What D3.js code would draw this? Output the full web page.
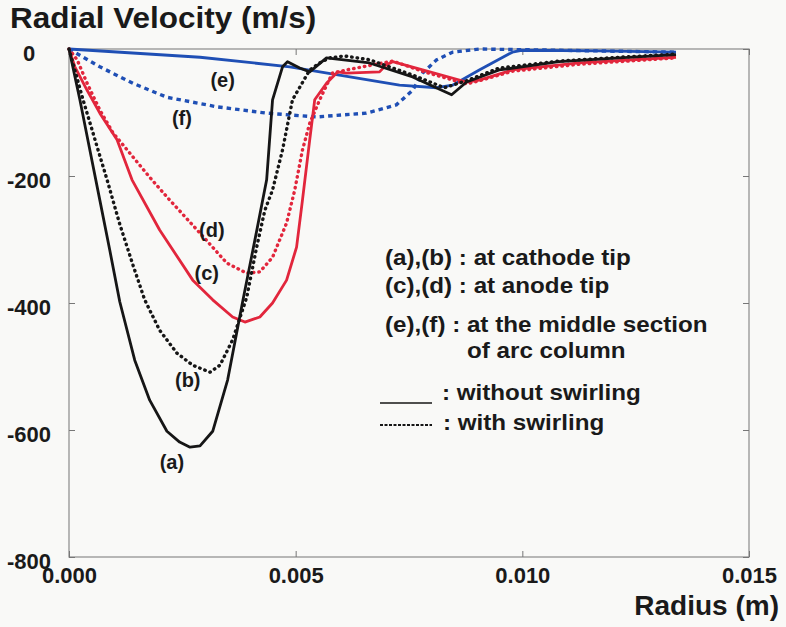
<!DOCTYPE html>
<html>
<head>
<meta charset="utf-8">
<script src="https://cdn.jsdelivr.net/npm/d3@7"></script>
<style>
  body { margin: 0; background: #f9f9f7; }
  svg text { font-family: "Liberation Sans", Arial, sans-serif; font-weight: bold; fill: #1a1a1a; }
</style>
</head>
<body>
<svg id="chart" width="786" height="627"></svg>
<script>
// Data (radius in m, radial velocity in m/s)
const xTicks = [0, 0.005, 0.01, 0.015];
const yTicks = [0, -200, -400, -600, -800];

// (a) cathode tip, without swirling
const aR = [0, 0.00024, 0.00046, 0.00068, 0.0009, 0.00112, 0.00145, 0.00178, 0.00216, 0.00244, 0.00267, 0.00289, 0.00317, 0.0035, 0.00383, 0.0041, 0.00436, 0.00449, 0.00471, 0.00482, 0.00509, 0.00531, 0.00568, 0.00663, 0.00758, 0.00844, 0.00877, 0.00949, 0.01081, 0.01214, 0.01339];
const aV = [0, -80, -159, -238, -317, -398, -490, -553, -602, -619, -627, -625, -602, -521, -398, -301, -206, -80, -28, -20, -30, -36, -14, -22, -44, -72, -52, -33, -20, -14, -9];

// (b) cathode tip, with swirling
const bR = [0, 0.00031, 0.00057, 0.00084, 0.00112, 0.00141, 0.00167, 0.002, 0.00238, 0.00273, 0.00311, 0.00333, 0.00361, 0.00392, 0.00414, 0.00432, 0.00449, 0.00471, 0.00493, 0.00531, 0.00553, 0.00575, 0.00608, 0.00663, 0.00758, 0.00828, 0.00877, 0.00949, 0.01081, 0.01214, 0.01339];
const bV = [0, -80, -142, -206, -276, -340, -395, -443, -479, -498, -509, -498, -458, -391, -312, -254, -222, -159, -80, -33, -22, -14, -11, -17, -41, -61, -50, -30, -19, -13, -8];

// (c) anode tip, without swirling
const cR = [0, 0.00013, 0.0004, 0.00068, 0.00106, 0.00139, 0.002, 0.00273, 0.00317, 0.00361, 0.00388, 0.00421, 0.00449, 0.0048, 0.00502, 0.00515, 0.00531, 0.00542, 0.00568, 0.00593, 0.00612, 0.00685, 0.007, 0.00714, 0.0078, 0.00877, 0.00905, 0.00978, 0.01126, 0.01339];
const cV = [0, -28, -65, -101, -143, -206, -285, -364, -395, -422, -430, -422, -400, -364, -312, -238, -143, -80, -54, -36, -38, -36, -25, -20, -33, -52, -49, -33, -22, -13];

// (d) anode tip, with swirling
const dR = [0, 0.00018, 0.0004, 0.00068, 0.00097, 0.00141, 0.00178, 0.00216, 0.00289, 0.00348, 0.00392, 0.00421, 0.00449, 0.0048, 0.00498, 0.00515, 0.00531, 0.00553, 0.00581, 0.00612, 0.00692, 0.00714, 0.00784, 0.00877, 0.00905, 0.00978, 0.01126, 0.01339];
const dV = [0, -17, -54, -96, -132, -170, -202, -233, -290, -337, -353, -351, -328, -274, -222, -159, -117, -80, -38, -33, -22, -19, -36, -55, -50, -35, -24, -14];

// (e) middle of arc column, without swirling
const eR = [0, 0.00289, 0.00487, 0.00729, 0.00811, 0.00846, 0.00905, 0.00978, 0.00998, 0.01167, 0.01339];
const eV = [0, -13, -28, -57, -61, -57, -33, -5, -2, -3, -5];

// (f) middle of arc column, with swirling
const fR = [0, 0.00068, 0.00141, 0.00216, 0.00326, 0.00436, 0.00546, 0.00656, 0.00722, 0.00758, 0.0078, 0.00811, 0.00846, 0.00905, 0.01081, 0.01339];
const fV = [0, -28, -54, -76, -91, -101, -107, -101, -88, -65, -38, -17, -5, 0, -2, -5];

const svg = d3.select("#chart");
const margin = { top: 49, right: 37, bottom: 70, left: 69 };
const width = +svg.attr("width") - margin.left - margin.right;
const height = +svg.attr("height") - margin.top - margin.bottom;

const x = d3.scaleLinear().domain([0, 0.015]).range([0, width]);
const y = d3.scaleLinear().domain([0, -800]).range([0, height]);

const g = svg.append("g").attr("transform", `translate(${margin.left},${margin.top})`);

// Frame
g.append("rect")
  .attr("width", width)
  .attr("height", height)
  .attr("fill", "none")
  .attr("stroke", "#8a8a8a")
  .attr("stroke-width", 1.2);

// Axes: inward ticks on all four sides
function styleAxis(sel) {
  sel.select(".domain").remove();
  sel.selectAll(".tick line").attr("stroke", "#777");
}

const left = g.append("g")
  .call(d3.axisLeft(y).tickValues(yTicks).tickSize(-6).tickFormat((d) => String(d)))
  .call(styleAxis);
left.selectAll(".tick text")
  .attr("x", -40)
  .attr("dy", "0.5em")
  .attr("text-anchor", "middle")
  .style("font-size", "22px");

g.append("g")
  .attr("transform", `translate(${width},0)`)
  .call(d3.axisRight(y).tickValues(yTicks).tickSize(-6).tickFormat(""))
  .call(styleAxis);

const bottom = g.append("g")
  .attr("transform", `translate(0,${height})`)
  .call(d3.axisBottom(x).tickValues(xTicks).tickSize(-6).tickFormat(d3.format(".3f")))
  .call(styleAxis);
bottom.selectAll(".tick text")
  .attr("y", 10)
  .attr("dy", "0.71em")
  .style("font-size", "22px");

g.append("g")
  .call(d3.axisTop(x).tickValues(xTicks).tickSize(-6).tickFormat(""))
  .call(styleAxis);

// Axis titles
svg.append("text")
  .attr("transform", "translate(10,28) scale(1.05,1)")
  .style("font-size", "30px")
  .text("Radial Velocity (m/s)");

svg.append("text")
  .attr("x", 779)
  .attr("y", 615)
  .attr("text-anchor", "end")
  .style("font-size", "28px")
  .text("Radius (m)");

// Curves
const series = [
  { r: eR, v: eV, color: "#1f4fb5", dash: null, cap: "butt" },
  { r: fR, v: fV, color: "#1f4fb5", dash: "4.5,4", cap: "butt" },
  { r: dR, v: dV, color: "#e2263c", dash: "0.5,5", cap: "round" },
  { r: cR, v: cV, color: "#e2263c", dash: null, cap: "butt" },
  { r: bR, v: bV, color: "#161616", dash: "0.5,5", cap: "round" },
  { r: aR, v: aV, color: "#161616", dash: null, cap: "butt" },
];

const line = d3.line()
  .x((d) => x(d[0]))
  .y((d) => y(d[1]));

series.forEach((s) => {
  g.append("path")
    .datum(d3.zip(s.r, s.v))
    .attr("d", line)
    .attr("fill", "none")
    .attr("stroke", s.color)
    .attr("stroke-width", s.dash ? 3.4 : 2.8)
    .attr("stroke-linejoin", "round")
    .attr("stroke-linecap", s.cap)
    .attr("stroke-dasharray", s.dash);
});

// Curve labels
const curveLabels = [
  { t: "(e)", r: 0.00339, v: -60 },
  { t: "(f)", r: 0.00249, v: -120 },
  { t: "(d)", r: 0.00315, v: -296 },
  { t: "(c)", r: 0.00304, v: -364 },
  { t: "(b)", r: 0.00262, v: -532 },
  { t: "(a)", r: 0.00227, v: -661 },
];
g.selectAll(".clabel")
  .data(curveLabels)
  .join("text")
  .attr("class", "clabel")
  .attr("x", (d) => x(d.r))
  .attr("y", (d) => y(d.v))
  .attr("text-anchor", "middle")
  .style("font-size", "20px")
  .text((d) => d.t);

// Legend
const legendLines = [
  { t: "(a),(b) : at cathode tip", px: 385, py: 265 },
  { t: "(c),(d) : at anode tip", px: 385, py: 293 },
  { t: "(e),(f) : at the middle section", px: 385, py: 332 },
  { t: "of arc column", px: 467, py: 358 },
  { t: ":  without swirling", px: 442, py: 400 },
  { t: ": with swirling", px: 443, py: 430 },
];
svg.selectAll(".ltext")
  .data(legendLines)
  .join("text")
  .attr("class", "ltext")
  .attr("transform", (d) => `translate(${d.px},${d.py}) scale(1.1,1)`)
  .style("font-size", "22px")
  .text((d) => d.t);

svg.append("line")
  .attr("x1", 380).attr("x2", 432)
  .attr("y1", 403).attr("y2", 403)
  .attr("stroke", "#161616")
  .attr("stroke-width", 1.6);

svg.append("line")
  .attr("x1", 380).attr("x2", 432)
  .attr("y1", 425).attr("y2", 425)
  .attr("stroke", "#161616")
  .attr("stroke-width", 2)
  .attr("stroke-dasharray", "3,1.5");
</script>
</body>
</html>
